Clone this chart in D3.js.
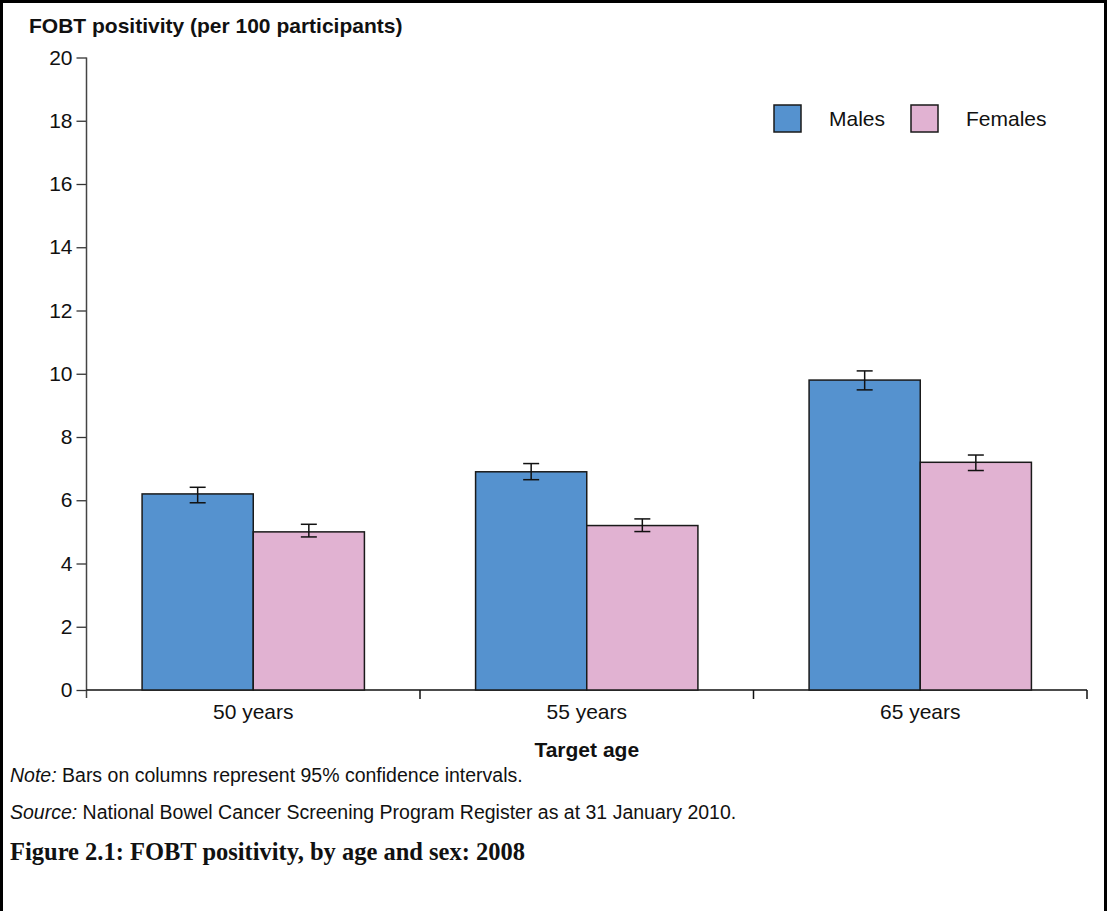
<!DOCTYPE html>
<html>
<head>
<meta charset="utf-8">
<script src="https://cdn.jsdelivr.net/npm/d3@7"></script>
<style>
  body { margin: 0; background: #fff; }
  svg { display: block; }
  text { font-family: "Liberation Sans", Arial, sans-serif; fill: #111; }
</style>
</head>
<body>
<div id="chart"></div>
<script>
// data
var ages = ["50 years", "55 years", "65 years"];
var sexes = ["Males", "Females"];
var males = [6.2, 6.9, 9.8];
var females = [5.0, 5.2, 7.2];
var malesLow = [5.92, 6.65, 9.49];
var malesHigh = [6.41, 7.16, 10.09];
var femalesLow = [4.84, 5.01, 6.94];
var femalesHigh = [5.24, 5.41, 7.43];
var yTicks = [0, 2, 4, 6, 8, 10, 12, 14, 16, 18, 20];

var colors = { "Males": "#5592cf", "Females": "#e1b2d2" };

var W = 1107, H = 911;
var chart = { left: 86.5, right: 1087, top: 57.5, bottom: 690 };

var rows = [];
ages.forEach(function (a, i) {
    rows.push({ age: a, sex: "Males", v: males[i], lo: malesLow[i], hi: malesHigh[i] });
    rows.push({ age: a, sex: "Females", v: females[i], lo: femalesLow[i], hi: femalesHigh[i] });
});

var svg = d3.select("#chart").append("svg")
    .attr("width", W)
    .attr("height", H);

// frame round the figure (no bottom edge)
svg.append("path")
    .attr("d", "M1.5," + H + "V1.5H1105.5V" + H)
    .attr("fill", "none")
    .attr("stroke", "#000")
    .attr("stroke-width", 3);

var y = d3.scaleLinear()
    .domain([0, 20])
    .range([chart.bottom, chart.top]);

var x0 = d3.scaleBand()
    .domain(ages)
    .range([chart.left, chart.right]);

var x1 = d3.scaleBand()
    .domain(sexes)
    .range([0, x0.bandwidth()])
    .paddingInner(0)
    .paddingOuter(0.5);

// y axis
var yAxis = d3.axisLeft(y)
    .tickValues(yTicks)
    .tickSize(10)
    .tickSizeOuter(0)
    .tickPadding(4);

var gy = svg.append("g")
    .attr("transform", "translate(" + chart.left + ",0)")
    .call(yAxis);
gy.select(".domain").remove();
gy.selectAll("line").attr("stroke", "#333").attr("stroke-width", 1.3);
gy.selectAll("text").attr("font-size", 21).attr("fill", "#111");

svg.append("line")
    .attr("x1", chart.left).attr("x2", chart.left)
    .attr("y1", y(20)).attr("y2", y(0) + 8)
    .attr("stroke", "#444").attr("stroke-width", 1.5);

// x axis
var xAxis = d3.axisBottom(x0).tickSize(0).tickPadding(14);
var gx = svg.append("g")
    .attr("transform", "translate(0," + chart.bottom + ")")
    .call(xAxis);
gx.select(".domain").remove();
gx.selectAll("text").attr("font-size", 21).attr("fill", "#111");

svg.append("line")
    .attr("x1", chart.left).attr("x2", chart.right)
    .attr("y1", chart.bottom).attr("y2", chart.bottom)
    .attr("stroke", "#111").attr("stroke-width", 1.5);

svg.selectAll(".xtick")
    .data(ages)
    .enter().append("line")
    .attr("class", "xtick")
    .attr("x1", function (d) { return x0(d) + x0.bandwidth(); })
    .attr("x2", function (d) { return x0(d) + x0.bandwidth(); })
    .attr("y1", chart.bottom)
    .attr("y2", chart.bottom + 9)
    .attr("stroke", "#111").attr("stroke-width", 1.5);

// bars
svg.selectAll(".bar")
    .data(rows)
    .enter().append("rect")
    .attr("class", "bar")
    .attr("x", function (d) { return x0(d.age) + x1(d.sex); })
    .attr("y", function (d) { return y(d.v); })
    .attr("width", x1.bandwidth())
    .attr("height", function (d) { return y(0) - y(d.v); })
    .attr("fill", function (d) { return colors[d.sex]; })
    .attr("stroke", "#1a1a1a")
    .attr("stroke-width", 1.5);

// confidence intervals
var cap = 8;
var err = svg.selectAll(".err")
    .data(rows)
    .enter().append("g")
    .attr("class", "err")
    .attr("stroke", "#111")
    .attr("stroke-width", 1.5);
err.append("line")
    .attr("x1", function (d) { return x0(d.age) + x1(d.sex) + x1.bandwidth() / 2; })
    .attr("x2", function (d) { return x0(d.age) + x1(d.sex) + x1.bandwidth() / 2; })
    .attr("y1", function (d) { return y(d.lo); })
    .attr("y2", function (d) { return y(d.hi); });
err.append("line")
    .attr("x1", function (d) { return x0(d.age) + x1(d.sex) + x1.bandwidth() / 2 - cap; })
    .attr("x2", function (d) { return x0(d.age) + x1(d.sex) + x1.bandwidth() / 2 + cap; })
    .attr("y1", function (d) { return y(d.hi); })
    .attr("y2", function (d) { return y(d.hi); });
err.append("line")
    .attr("x1", function (d) { return x0(d.age) + x1(d.sex) + x1.bandwidth() / 2 - cap; })
    .attr("x2", function (d) { return x0(d.age) + x1(d.sex) + x1.bandwidth() / 2 + cap; })
    .attr("y1", function (d) { return y(d.lo); })
    .attr("y2", function (d) { return y(d.lo); });

// legend
var legendX = [774, 911];
var legend = svg.selectAll(".legend")
    .data(sexes)
    .enter().append("g")
    .attr("class", "legend")
    .attr("transform", function (d, i) { return "translate(" + legendX[i] + ",105)"; });
legend.append("rect")
    .attr("width", 27).attr("height", 27)
    .attr("fill", function (d) { return colors[d]; })
    .attr("stroke", "#1a1a1a").attr("stroke-width", 1.5);
legend.append("text")
    .attr("x", 55).attr("y", 21)
    .attr("font-size", 21)
    .text(function (d) { return d; });

// titles
svg.append("text")
    .attr("x", 29).attr("y", 33)
    .attr("font-size", 21).attr("font-weight", "bold")
    .text("FOBT positivity (per 100 participants)");

svg.append("text")
    .attr("x", x0("55 years") + x0.bandwidth() / 2).attr("y", 757)
    .attr("text-anchor", "middle")
    .attr("font-size", 21).attr("font-weight", "bold")
    .text("Target age");

var note = svg.append("text").attr("x", 10).attr("y", 782).attr("font-size", 19.5);
note.append("tspan").attr("font-style", "italic").text("Note:");
note.append("tspan").text(" Bars on columns represent 95% confidence intervals.");

var src = svg.append("text").attr("x", 10).attr("y", 819).attr("font-size", 19.5);
src.append("tspan").attr("font-style", "italic").text("Source:");
src.append("tspan").text(" National Bowel Cancer Screening Program Register as at 31 January 2010.");

svg.append("text")
    .attr("x", 10).attr("y", 860)
    .style("font-family", "'Liberation Serif', 'DejaVu Serif', serif")
    .attr("font-size", 24.5).attr("font-weight", "bold")
    .text("Figure 2.1: FOBT positivity, by age and sex: 2008");
</script>
</body>
</html>
